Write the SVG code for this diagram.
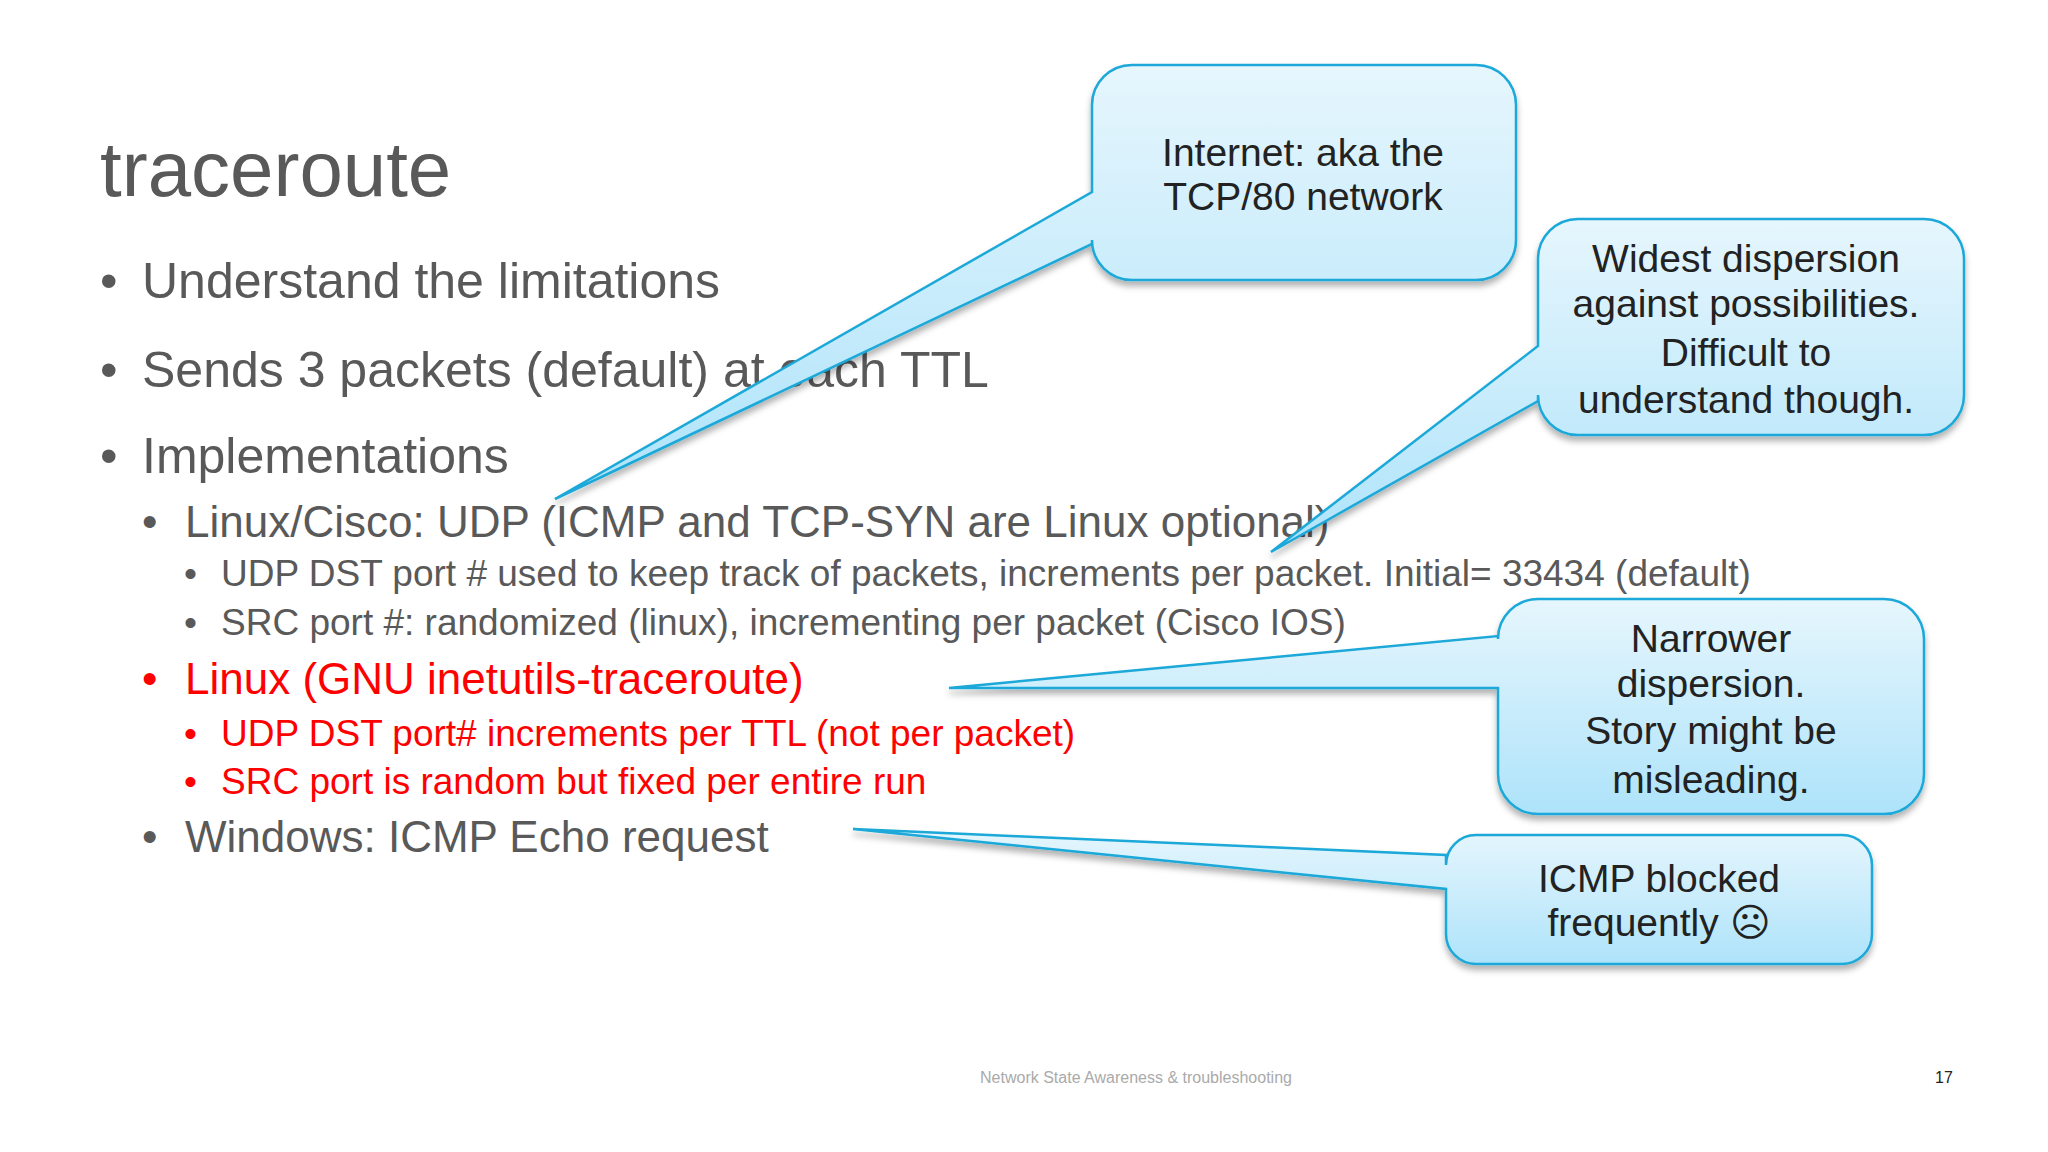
<svg xmlns="http://www.w3.org/2000/svg" width="2048" height="1152" viewBox="0 0 2048 1152">
<defs>
<linearGradient id="g" x1="0" y1="0" x2="0" y2="1"><stop offset="0" stop-color="#e6f6fd"/><stop offset="1" stop-color="#aee3fa"/></linearGradient>
<filter id="sh" x="-10%" y="-10%" width="120%" height="130%"><feDropShadow dx="0" dy="5" stdDeviation="3" flood-color="#000" flood-opacity="0.3"/></filter>
</defs>
<style>
text{font-family:"Liberation Sans",Arial,sans-serif}
.t{fill:#595959}
.r{fill:#ff0000}
.l1{font-size:50px}.l2{font-size:44px}.l3{font-size:37px}
.co{fill:url(#g);stroke:#1aa8d8;stroke-width:2.5;filter:url(#sh)}
.ct{font-size:39px;fill:#222;text-anchor:middle}
</style>
<rect width="2048" height="1152" fill="#fff"/>
<g id="slide-text">
<text x="100" y="196" font-size="78" class="t">traceroute</text>
<text x="100" y="298" class="t l1">•</text><text x="142" y="298" class="t l1">Understand the limitations</text>
<text x="100" y="387" class="t l1">•</text><text x="142" y="387" class="t l1">Sends 3 packets (default) at each TTL</text>
<text x="100" y="473" class="t l1">•</text><text x="142" y="473" class="t l1">Implementations</text>
<text x="142" y="537" class="t l2">•</text><text x="185" y="537" class="t l2">Linux/Cisco: UDP (ICMP and TCP-SYN are Linux optional)</text>
<text x="184" y="586" class="t l3">•</text><text x="221" y="586" class="t l3">UDP DST port # used to keep track of packets, increments per packet. Initial= 33434 (default)</text>
<text x="184" y="635" class="t l3">•</text><text x="221" y="635" class="t l3">SRC port #: randomized (linux), incrementing per packet (Cisco IOS)</text>
<text x="142" y="694" class="r l2">•</text><text x="185" y="694" class="r l2">Linux (GNU inetutils-traceroute)</text>
<text x="184" y="746" class="r l3">•</text><text x="221" y="746" class="r l3">UDP DST port# increments per TTL (not per packet)</text>
<text x="184" y="794" class="r l3">•</text><text x="221" y="794" class="r l3">SRC port is random but fixed per entire run</text>
<text x="142" y="852" class="t l2">•</text><text x="185" y="852" class="t l2">Windows: ICMP Echo request</text>
<text x="1136" y="1083" font-size="16" fill="#aaa" text-anchor="middle">Network State Awareness &amp; troubleshooting</text>
<text x="1935" y="1083" font-size="16" fill="#222">17</text>
</g>
<g id="callout-internet">
<path class="co" d="M1132,65 H1476 A40,40 0 0 1 1516,105 V240 A40,40 0 0 1 1476,280 H1132 A40,40 0 0 1 1092,240 V244 L555,499 L1092,192 V105 A40,40 0 0 1 1132,65 Z"/>
<text class="ct" x="1303" y="166">Internet: aka the</text><text class="ct" x="1303" y="210">TCP/80 network</text>
</g>
<g id="callout-widest">
<path class="co" d="M1578,219 H1924 A40,40 0 0 1 1964,259 V395 A40,40 0 0 1 1924,435 H1578 A40,40 0 0 1 1538,395 V401 L1271,552 L1538,346 V259 A40,40 0 0 1 1578,219 Z"/>
<text class="ct" x="1746" y="272">Widest dispersion</text><text class="ct" x="1746" y="317">against possibilities.</text><text class="ct" x="1746" y="366">Difficult to</text><text class="ct" x="1746" y="413">understand though.</text>
</g>
<g id="callout-narrower">
<path class="co" d="M1538,599 H1884 A40,40 0 0 1 1924,639 V774 A40,40 0 0 1 1884,814 H1538 A40,40 0 0 1 1498,774 V688 L949,688 L1498,636 V639 A40,40 0 0 1 1538,599 Z"/>
<text class="ct" x="1711" y="652">Narrower</text><text class="ct" x="1711" y="697">dispersion.</text><text class="ct" x="1711" y="744">Story might be</text><text class="ct" x="1711" y="793">misleading.</text>
</g>
<g id="callout-icmp">
<path class="co" d="M1476,835 H1842 A30,30 0 0 1 1872,865 V934 A30,30 0 0 1 1842,964 H1476 A30,30 0 0 1 1446,934 V889 L853,829 L1446,855 V865 A30,30 0 0 1 1476,835 Z"/>
<text class="ct" x="1659" y="892">ICMP blocked</text><text class="ct" x="1659" y="936">frequently ☹</text>
</g>
<g id="connectors"/>
</svg>
